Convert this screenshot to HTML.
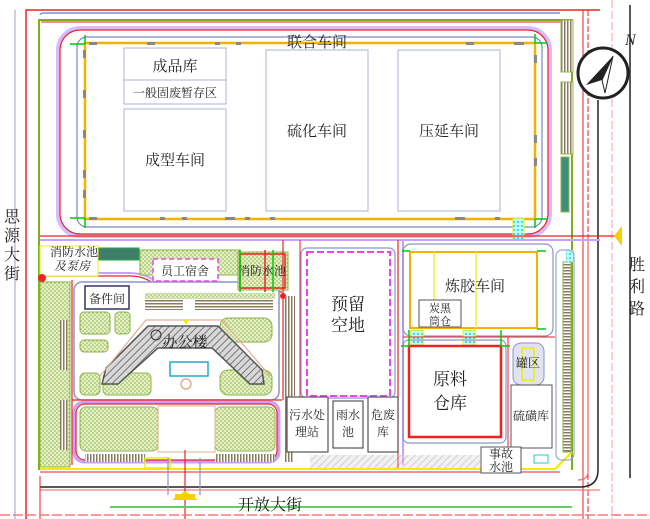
<!DOCTYPE html>
<html><head><meta charset="utf-8">
<style>
html,body{margin:0;padding:0;background:#fff;}
svg{display:block;}
text{font-family:"Liberation Serif","Noto Serif CJK SC","Noto Sans CJK SC",serif;fill:#222;}
</style></head>
<body>
<svg width="650" height="519" viewBox="0 0 650 519" xmlns="http://www.w3.org/2000/svg">
<defs>
<pattern id="gd" width="4" height="4" patternUnits="userSpaceOnUse">
<rect width="4" height="4" fill="#e4efc6"/><circle cx="1" cy="1" r="0.8" fill="#8fb548"/><circle cx="3" cy="3" r="0.8" fill="#8fb548"/>
</pattern>
<pattern id="hatch" width="5" height="5" patternUnits="userSpaceOnUse" patternTransform="rotate(45)">
<rect width="5" height="5" fill="#d8d8d8"/><line x1="0" y1="0" x2="0" y2="5" stroke="#777" stroke-width="2"/>
</pattern>
<pattern id="cy" width="4" height="4" patternUnits="userSpaceOnUse">
<rect width="4" height="4" fill="#bff"/><circle cx="2" cy="2" r="1" fill="#2cc"/>
</pattern>
<pattern id="stripe" width="3" height="4" patternUnits="userSpaceOnUse">
<rect width="3" height="4" fill="#fff"/><rect width="1.5" height="4" fill="#8a7a60"/>
</pattern>
<pattern id="stripeh" width="4" height="3" patternUnits="userSpaceOnUse">
<rect width="4" height="3" fill="#fff"/><rect width="4" height="1.5" fill="#8a7a60"/>
</pattern>
</defs>
<rect width="650" height="519" fill="#fff"/>

<line x1="15" y1="10" x2="15" y2="519" stroke="#9aa6cc" stroke-width="1"/>
<path d="M26 519 V10 H600" fill="none" stroke="#e22" stroke-width="1.5"/>
<path d="M40 15 Q40 13 45 13 H560" fill="none" stroke="#6b7bc4" stroke-width="1.2"/>
<path d="M39 470 V20 H572 V470" fill="none" stroke="#7ab020" stroke-width="2"/>
<path d="M41 22 H570" stroke="#e22" stroke-width="1"/>

<rect x="58" y="28" width="492" height="208" rx="22" fill="none" stroke="#c9a0ff" stroke-width="4" opacity="0.7"/>
<rect x="60" y="30" width="488" height="204" rx="20" fill="none" stroke="#e22" stroke-width="1.2"/>
<rect x="77" y="37" width="465" height="190" rx="10" fill="none" stroke="#7886c8" stroke-width="1.2"/>
<rect x="85" y="43" width="450" height="176" fill="#fff" stroke="#f0b400" stroke-width="2.5"/>
<rect x="124" y="48" width="102" height="32" fill="#fff" stroke="#a8b4d0" stroke-width="1"/>
<rect x="124" y="80" width="102" height="24" fill="#fff" stroke="#a8b4d0" stroke-width="1"/>
<rect x="124" y="109" width="102" height="102" fill="#fff" stroke="#a8b4d0" stroke-width="1"/>
<rect x="266" y="50" width="102" height="161" fill="#fff" stroke="#a8b4d0" stroke-width="1"/>
<rect x="398" y="50" width="102" height="161" fill="#fff" stroke="#a8b4d0" stroke-width="1"/>
<g fill="#888">
<rect x="89" y="42" width="8" height="3"/><rect x="147" y="42" width="8" height="3"/><rect x="215" y="42" width="5" height="3"/><rect x="236" y="42" width="5" height="3"/><rect x="466" y="42" width="8" height="3"/><rect x="514" y="42" width="10" height="3"/>
<rect x="89" y="217" width="8" height="3"/><rect x="160" y="217" width="5" height="3"/><rect x="182" y="217" width="5" height="3"/><rect x="225" y="217" width="10" height="3"/><rect x="245" y="217" width="5" height="3"/><rect x="270" y="217" width="5" height="3"/><rect x="455" y="217" width="10" height="3"/><rect x="495" y="217" width="5" height="3"/>
<rect x="83" y="50" width="3" height="8"/><rect x="83" y="90" width="3" height="8"/><rect x="83" y="130" width="3" height="8"/><rect x="83" y="170" width="3" height="8"/><rect x="83" y="190" width="3" height="8"/>
<rect x="534" y="55" width="3" height="8"/><rect x="534" y="135" width="3" height="8"/><rect x="534" y="158" width="3" height="8"/>
</g>
<g stroke="#0c0" stroke-width="1.5" fill="none"><path d="M70 44 H85 M85 35 V44 M70 218 H85 M85 218 V228 M535 34 V43 H547 M535 219 V228 M535 219 H548"/></g>
<text x="317" y="47" font-size="15" text-anchor="middle">联合车间</text>
<text x="175" y="71" font-size="15" text-anchor="middle">成品库</text>
<text x="175" y="97" font-size="12" text-anchor="middle">一般固废暂存区</text>
<text x="175" y="165" font-size="15" text-anchor="middle">成型车间</text>
<text x="317" y="136" font-size="15" text-anchor="middle">硫化车间</text>
<text x="449" y="136" font-size="15" text-anchor="middle">压延车间</text>

<rect x="561" y="20" width="12" height="52" fill="url(#stripe)" stroke="#8fb548" stroke-width="1"/>
<rect x="561" y="82" width="12" height="72" fill="url(#stripe)" stroke="#8fb548" stroke-width="1"/>
<rect x="561" y="157" width="8" height="55" fill="#3f8f78" stroke="#8fb548" stroke-width="1"/>
<rect x="513" y="218" width="11" height="22" fill="url(#cy)" stroke="#ee0" stroke-width="1"/>
<line x1="583" y1="10" x2="583" y2="519" stroke="#e22" stroke-width="1"/>
<line x1="588" y1="10" x2="588" y2="519" stroke="#e22" stroke-width="1" stroke-dasharray="6 2"/>
<path d="M598 100 V470 Q598 487 580 487 H40" fill="none" stroke="#222" stroke-width="1.5"/>
<path d="M588 240 V472 Q588 480 578 480" fill="none" stroke="#e65" stroke-width="1.2"/>
<line x1="630" y1="5" x2="630" y2="478" stroke="#222" stroke-width="1.5"/>
<line x1="612" y1="0" x2="612" y2="519" stroke="#f88" stroke-width="0.8" stroke-dasharray="8 3"/>
<line x1="40" y1="236" x2="622" y2="236" stroke="#e22" stroke-width="1.2"/>
<line x1="40" y1="240" x2="600" y2="240" stroke="#c9a0ff" stroke-width="2"/>
<polygon points="622,226 622,246 614,236" fill="#f5d000"/>
<text font-size="16" x="637" y="270" text-anchor="middle">胜</text>
<text font-size="16" x="637" y="292" text-anchor="middle">利</text>
<text font-size="16" x="637" y="314" text-anchor="middle">路</text>

<circle cx="603" cy="73" r="25" fill="#fff" stroke="#222" stroke-width="3"/>
<polygon points="613,56 586,85 602,80 605,93" fill="#222"/>
<polygon points="613,56 602,80 605,93" fill="#fff" stroke="#222" stroke-width="1"/>
<text x="625" y="45" font-size="16" font-style="italic">N</text>

<text font-size="16" x="12" y="222" text-anchor="middle">思</text>
<text font-size="16" x="12" y="241" text-anchor="middle">源</text>
<text font-size="16" x="12" y="260" text-anchor="middle">大</text>
<text font-size="16" x="12" y="279" text-anchor="middle">街</text>

<rect x="40" y="282" width="30" height="185" fill="url(#gd)" stroke="#8fb548"/>
<rect x="60" y="320" width="8" height="50" fill="url(#stripe)"/>
<rect x="60" y="400" width="8" height="50" fill="url(#stripe)"/>
<path d="M40 276 H130 Q145 276 155 285 Q165 292 180 292 H282" fill="none" stroke="#e22" stroke-width="1.2"/>
<path d="M40 273 H128 Q145 273 155 281 Q165 288 180 288 H282" fill="none" stroke="#c9a0ff" stroke-width="2"/>
<rect x="74" y="282" width="205" height="118" rx="8" fill="#fff" stroke="#8a96c8" stroke-width="1.5"/>
<rect x="74" y="402" width="205" height="60" rx="10" fill="none" stroke="#c9a0ff" stroke-width="3"/>
<rect x="76" y="404" width="201" height="56" rx="9" fill="none" stroke="#e22" stroke-width="1.2"/>
<line x1="72" y1="400" x2="282" y2="400" stroke="#e22" stroke-width="1.2"/>
<line x1="72" y1="280" x2="72" y2="465" stroke="#e22" stroke-width="1.2"/>
<rect x="80" y="407" width="78" height="44" rx="6" fill="url(#gd)" stroke="#8fb548"/>
<rect x="215" y="407" width="60" height="44" rx="6" fill="url(#gd)" stroke="#8fb548"/>
<rect x="158" y="406" width="57" height="46" fill="#fff" stroke="#e0b090"/>
<rect x="85" y="454" width="60" height="8" fill="url(#stripe)"/>
<rect x="215" y="454" width="60" height="8" fill="url(#stripe)"/>
<rect x="145" y="458" width="25" height="10" fill="none" stroke="#ee0" stroke-width="1.5"/>
<rect x="85" y="286" width="44" height="23" fill="#fff" stroke="#336" stroke-width="1.5"/>
<text x="107" y="303" font-size="12" text-anchor="middle">备件间</text>
<rect x="80" y="312" width="30" height="22" rx="4" fill="url(#gd)" stroke="#8fb548"/>
<rect x="115" y="312" width="15" height="22" rx="4" fill="url(#gd)" stroke="#8fb548"/>
<rect x="80" y="340" width="28" height="12" rx="4" fill="url(#gd)" stroke="#8fb548"/>
<rect x="80" y="373" width="20" height="22" rx="5" fill="url(#gd)" stroke="#8fb548"/>
<rect x="103" y="373" width="48" height="22" rx="5" fill="url(#gd)" stroke="#8fb548"/>
<rect x="220" y="318" width="52" height="24" rx="8" fill="url(#gd)" stroke="#8fb548"/>
<rect x="220" y="370" width="52" height="25" rx="8" fill="url(#gd)" stroke="#8fb548"/>
<rect x="145" y="300" width="38" height="10" fill="url(#stripeh)"/>
<rect x="195" y="300" width="78" height="10" fill="url(#stripeh)"/>
<rect x="145" y="293" width="130" height="6" fill="url(#gd)"/>
<path d="M102 384 L106 368 L148 326 L218 326 L262 370 L264 384 L250 384 L212 348 L158 348 L118 384 Z" fill="url(#hatch)" stroke="#555" stroke-width="1.5"/>
<path d="M100 376 L146 320 L222 320 L270 376" fill="none" stroke="#e0b090" stroke-width="1.2"/>
<rect x="170" y="362" width="38" height="14" fill="none" stroke="#2ac" stroke-width="1.5"/>
<circle cx="186" cy="384" r="5" fill="none" stroke="#e0b090" stroke-width="1.5"/>
<circle cx="156" cy="335" r="5" fill="none" stroke="#333"/>
<polygon points="183,320 189,320 186,325" fill="#ee0"/>
<text x="185" y="347" font-size="15" text-anchor="middle">办公楼</text>

<rect x="95" y="248" width="44" height="12" fill="#3f7f6a" stroke="#2a4"/>
<rect x="40" y="246" width="58" height="30" fill="#fff" stroke="#ee0"/>
<text x="74" y="256" font-size="12" text-anchor="middle">消防水池</text>
<text x="72" y="270" font-size="12" text-anchor="middle" font-style="italic">及泵房</text>
<rect x="140" y="250" width="100" height="25" fill="url(#gd)" stroke="#8fb548"/>
<rect x="153" y="259" width="65" height="22" fill="#fff" stroke="#e4e" stroke-dasharray="5 3" stroke-width="1.5"/>
<text x="185" y="275" font-size="12" text-anchor="middle">员工宿舍</text>
<rect x="238" y="252" width="50" height="38" fill="url(#gd)" stroke="#8fb548"/>
<rect x="240" y="254" width="45" height="34" fill="none" stroke="#e22" stroke-width="1.5"/>
<line x1="265" y1="250" x2="265" y2="292" stroke="#e22" stroke-width="1.5"/>
<text x="262" y="275" font-size="12" text-anchor="middle">消防水池</text>
<g stroke="#0c0" stroke-width="1.5"><line x1="240" y1="250" x2="240" y2="292"/><line x1="273" y1="250" x2="273" y2="292"/></g>
<circle cx="283" cy="296" r="3" fill="#e22"/>
<line x1="283" y1="240" x2="283" y2="400" stroke="#e22" stroke-width="1.2"/>
<line x1="300" y1="240" x2="300" y2="400" stroke="#e22" stroke-width="1"/>
<rect x="285" y="296" width="10" height="100" fill="url(#stripe)"/>
<rect x="285" y="396" width="8" height="66" fill="url(#stripe)"/>
<circle cx="42" cy="278" r="4" fill="#e22"/>

<rect x="301" y="248" width="94" height="150" rx="6" fill="none" stroke="#8a96c8" stroke-width="1.2"/>
<rect x="307" y="252" width="83" height="144" fill="#fff" stroke="#e4e" stroke-dasharray="7 3" stroke-width="2"/>
<text x="348" y="310" font-size="17" text-anchor="middle">预留</text>
<text x="348" y="331" font-size="17" text-anchor="middle">空地</text>
<line x1="398" y1="240" x2="398" y2="470" stroke="#e22" stroke-width="1.2"/>
<line x1="403" y1="240" x2="403" y2="465" stroke="#c9a0ff" stroke-width="2"/>

<rect x="287" y="397" width="41" height="55" fill="#fff" stroke="#555" stroke-width="1.2"/>
<text x="307" y="419" font-size="12" text-anchor="middle">污水处</text>
<text x="307" y="436" font-size="12" text-anchor="middle">理站</text>
<rect x="333" y="401" width="30" height="47" fill="#fff" stroke="#555" stroke-width="1.2"/>
<text x="348" y="419" font-size="12" text-anchor="middle">雨水</text>
<text x="348" y="436" font-size="12" text-anchor="middle">池</text>
<rect x="368" y="397" width="30" height="55" fill="#fff" stroke="#555" stroke-width="1.2"/>
<text x="383" y="419" font-size="12" text-anchor="middle">危废</text>
<text x="383" y="436" font-size="12" text-anchor="middle">库</text>
<rect x="310" y="455" width="170" height="14" fill="url(#hatch)" opacity="0.35"/>
<line x1="40" y1="469" x2="555" y2="469" stroke="#ee0" stroke-width="2"/>
<line x1="40" y1="472" x2="560" y2="472" stroke="#e22" stroke-width="1"/>
<path d="M555 469 L572 452" stroke="#ee0" stroke-width="2"/>

<rect x="403" y="244" width="150" height="92" rx="8" fill="none" stroke="#8a96c8" stroke-width="1.2"/>
<rect x="410" y="252" width="127" height="76" fill="#fff" stroke="#f0b400" stroke-width="2"/>
<line x1="434" y1="252" x2="434" y2="328" stroke="#ee0" stroke-width="1.2"/>
<line x1="476" y1="252" x2="476" y2="328" stroke="#ee0" stroke-width="1.2"/>
<rect x="419" y="300" width="42" height="27" fill="#fff" stroke="#555"/>
<text x="440" y="312" font-size="11" text-anchor="middle">炭黑</text>
<text x="440" y="325" font-size="11" text-anchor="middle">筒仓</text>
<text x="475" y="291" font-size="15" text-anchor="middle">炼胶车间</text>
<rect x="411" y="330" width="12" height="15" fill="url(#cy)" stroke="#ee0"/>
<rect x="463" y="330" width="12" height="15" fill="url(#cy)" stroke="#ee0"/>
<line x1="403" y1="337" x2="555" y2="337" stroke="#e22" stroke-width="1"/>
<line x1="508" y1="337" x2="508" y2="450" stroke="#e22" stroke-width="1"/>
<rect x="403" y="340" width="103" height="103" rx="6" fill="none" stroke="#8a96c8" stroke-width="1.2"/>
<rect x="409" y="346" width="92" height="91" fill="#fff" stroke="#e22" stroke-width="2.5"/>
<text x="450" y="385" font-size="17" text-anchor="middle">原料</text>
<text x="450" y="409" font-size="17" text-anchor="middle">仓库</text>
<g stroke="#0c0" stroke-width="1.5" fill="none"><path d="M409 330 V346 H401 M501 330 V346 H510 M410 251 H402 M537 251 H546 M537 329 H546"/></g>
<rect x="513" y="343" width="31" height="42" rx="8" fill="#dfe3f2" stroke="#8a96c8"/>
<rect x="522" y="348" width="12" height="32" fill="none" stroke="#ee0" stroke-width="1.5"/>
<text x="528" y="367" font-size="12" text-anchor="middle">罐区</text>
<rect x="511" y="385" width="41" height="63" fill="#fff" stroke="#555"/>
<text x="531" y="420" font-size="12" text-anchor="middle">硫磺库</text>
<rect x="481" y="447" width="40" height="26" fill="#fff" stroke="#555"/>
<text x="501" y="458" font-size="12" text-anchor="middle">事故</text>
<text x="501" y="471" font-size="12" text-anchor="middle">水池</text>
<rect x="534" y="455" width="14" height="8" fill="none" stroke="#2cc"/>
<rect x="563" y="262" width="8" height="190" fill="url(#stripeh)" stroke="#8fb548"/>
<rect x="566" y="250" width="8" height="12" fill="url(#cy)"/>
<rect x="556" y="250" width="18" height="210" rx="6" fill="none" stroke="#8a96c8" stroke-width="1"/>

<line x1="40" y1="490" x2="600" y2="490" stroke="#e65" stroke-width="1"/>
<line x1="40" y1="476" x2="40" y2="519" stroke="#e22" stroke-width="1"/>
<path d="M168 458 V495 M200 458 V495" stroke="#8a96c8" stroke-width="1.2"/>
<line x1="185" y1="450" x2="185" y2="519" stroke="#e22" stroke-width="1.2"/>
<polygon points="172,500 198,500 185,491" fill="#f5d000"/>
<rect x="175" y="494" width="20" height="6" fill="#f5d000"/>
<line x1="110" y1="507" x2="572" y2="507" stroke="#6c6" stroke-width="2"/>
<line x1="0" y1="515" x2="650" y2="515" stroke="#f77" stroke-width="1.5" stroke-dasharray="10 3"/>
<text x="270" y="510" font-size="16" text-anchor="middle">开放大街</text>
</svg>
</body></html>
